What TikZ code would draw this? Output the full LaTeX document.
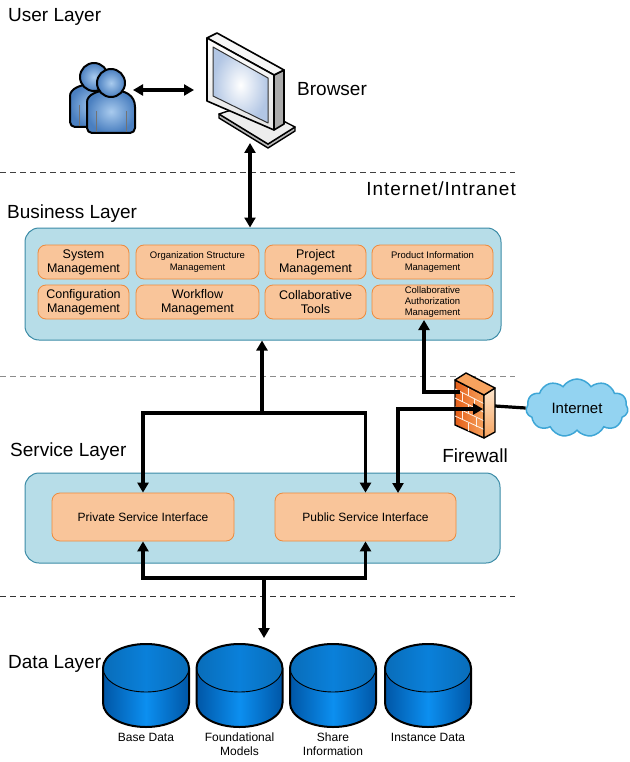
\documentclass[tikz,border=0pt]{standalone}
\usepackage{fontspec}
\setmainfont{Liberation Sans}
\usetikzlibrary{arrows.meta,shapes.symbols,calc}

\definecolor{layerfill}{HTML}{B7DDE8}
\definecolor{layeredge}{HTML}{3B8BA6}
\definecolor{modfill}{HTML}{F9C59A}
\definecolor{modedge}{HTML}{EE8A3C}
\definecolor{dbedge}{HTML}{0056A6}
\definecolor{dbmid}{HTML}{0C8FF0}
\definecolor{dbtop}{HTML}{0A80DA}
\definecolor{personlight}{HTML}{A9CBEE}
\definecolor{persondark}{HTML}{4A7FC0}
\definecolor{monfront}{HTML}{E4E4E4}
\definecolor{montop}{HTML}{F6F6F6}
\definecolor{monside}{HTML}{ABABAB}
\definecolor{screenblue}{HTML}{B2C6E4}
\definecolor{standtop}{HTML}{EDEDED}
\definecolor{standside}{HTML}{B8B8B8}
\definecolor{fwdark}{HTML}{E45E18}
\definecolor{fwlight}{HTML}{F7A35E}
\definecolor{fwcream}{HTML}{FDE7CF}
\definecolor{cloudfill}{HTML}{93D3F1}
\definecolor{cloudedge}{HTML}{3EA6D6}

\tikzset{
  >={Triangle[width=11pt,length=10pt]},
  conn/.style={line width=3.2pt},
  sepline/.style={dash pattern=on 6pt off 4pt, line width=1pt},
  layerbox/.style={draw=layeredge, fill=layerfill, line width=1pt, rounded corners=14pt, inner sep=0pt},
  modbox/.style={draw=modedge, fill=modfill, line width=0.8pt, rounded corners=8pt,
    align=center, inner sep=0pt, text=black},
  modtext/.style={modbox, font=\fontsize{12.5}{14}\selectfont},
  modsmall/.style={modbox, font=\fontsize{9.5}{11.3}\selectfont},
  title/.style={font=\fontsize{19}{22}\selectfont, inner sep=0pt},
  dblabel/.style={font=\fontsize{12}{14}\selectfont, align=center, inner sep=0pt, anchor=north},
  icon/.style={inner sep=0pt},
  personbody/.style={line width=2pt, line join=round, inner color=personlight, outer color=persondark},
  person/.pic={
    \shadedraw[personbody, rounded corners=5pt]
      (-24,-50) -- (-24,-24) [sharp corners] .. controls (-24,-12) and (-14,-7) .. (0,-7)
      .. controls (14,-7) and (24,-12) .. (24,-24) [rounded corners=5pt] -- (24,-50) -- cycle;
    \draw[black!55, line width=0.6pt] (-15,-28) -- (-15,-49) (15,-28) -- (15,-49);
    \shadedraw[personbody] (0,0) circle[radius=14];
  }
}

\begin{document}
\begin{tikzpicture}[x=1pt,y=1pt]
\useasboundingbox (0,0) rectangle (629,-762);

% layer separators
\draw[sepline, black!75] (0,-173) -- (515,-173);
\draw[sepline, black!45] (0,-376) -- (515,-376);
\draw[sepline, black!80] (0,-596) -- (515,-596);

% layer titles
\node[title, anchor=base west] (tUser) at (8,-22) {User Layer};
\node[title, anchor=base west] (tBrowser) at (297,-96) {Browser};
\node[title, anchor=base east] (tNet) at (516,-195) {\addfontfeature{LetterSpace=5}Internet/Intranet};
\node[title, anchor=base west] (tBusiness) at (7,-218) {Business Layer};
\node[title, anchor=base west] (tService) at (10,-456) {Service Layer};
\node[title, anchor=base west] (tData) at (8,-668) {Data Layer};
\node[title, anchor=base] (tFirewall) at (475,-462) {Firewall};

% users icon
\node[icon, minimum width=68, minimum height=70] (users) at (102,-98) {};
\pic at (94,-77) {person};
\pic at (111,-83) {person};

% browser icon: stand plate, then the monitor
\node[icon, minimum width=90, minimum height=116] (browser) at (251,-90) {};
\filldraw[fill=standside, line width=1.4pt, line join=round]
  (219,-114) -- (219,-118) -- (268,-148) -- (295,-131) -- (295,-127) -- (268,-144) -- cycle;
\filldraw[fill=standtop, line width=1.4pt, line join=round]
  (219,-114) -- (250,-104) -- (295,-127) -- (268,-144) -- cycle;
\filldraw[fill=monside, line width=1.6pt, line join=round]
  (274,-75) -- (284,-70) -- (284,-124) -- (274,-130) -- cycle;
\filldraw[fill=montop, line width=1.6pt, line join=round]
  (207,-38) -- (217,-33) -- (284,-70) -- (274,-75) -- cycle;
\shadedraw[top color=white, bottom color=monfront, line width=1.6pt, line join=round]
  (207,-38) -- (274,-75) -- (274,-130) -- (207,-101) -- cycle;
\shadedraw[inner color=white, outer color=screenblue, draw=black!80, line width=1pt, line join=round]
  (213,-47) -- (268,-78) -- (268,-123) -- (213,-96) -- cycle;

% business layer
\node[layerbox, minimum width=476, minimum height=112] (bus) at (263,-284) {};
\node[modtext, minimum width=91, minimum height=34] (sysm) at (83.5,-262) {System\\Management};
\node[modsmall, minimum width=123, minimum height=34] (orgm) at (197.5,-262) {Organization Structure\\Management};
\node[modtext, minimum width=101, minimum height=34] (prjm) at (315.5,-262) {Project\\Management};
\node[modsmall, minimum width=121, minimum height=34] (pim) at (432.5,-262) {Product Information\\Management};
\node[modtext, minimum width=91, minimum height=34] (cfgm) at (83.5,-302) {Configuration\\Management};
\node[modtext, minimum width=123, minimum height=34] (wfm) at (197.5,-302) {Workflow\\Management};
\node[modtext, minimum width=101, minimum height=34] (colt) at (315.5,-302) {Collaborative\\Tools};
\node[modsmall, minimum width=121, minimum height=34] (cam) at (432.5,-302) {Collaborative\\Authorization\\Management};

% service layer
\node[layerbox, minimum width=475, minimum height=90] (svc) at (262.5,-518) {};
\node[modtext, font=\fontsize{12}{14}\selectfont, minimum width=182, minimum height=48] (priv) at (143,-517) {Private Service Interface};
\node[modtext, font=\fontsize{12}{14}\selectfont, minimum width=181, minimum height=48] (pub) at (365.5,-517) {Public Service Interface};

% firewall
\node[icon, minimum width=40, minimum height=66] (fw) at (475,-405.5) {};
\shadedraw[left color=fwdark, right color=fwlight, line width=1.4pt, line join=round]
  (455,-380) -- (484,-395) -- (484,-438) -- (455,-425) -- cycle;
\begin{scope}
  \clip (455,-380) -- (484,-395) -- (484,-438) -- (455,-425) -- cycle;
  \foreach \k in {1,...,4} {
    \draw[white!85!fwlight, line width=0.8pt] (455,-380-9*\k) -- (484,-395-8.6*\k);
  }
  \foreach \xa/\k in {468/0, 462/1, 474/1, 468/2, 462/3, 476/3, 468/4} {
    \draw[white!85!fwlight, line width=0.8pt]
      (\xa,{-380-9*\k-(\xa-455)*0.5}) -- ++(0,-9);
  }
\end{scope}
\shadedraw[top color=fwcream, bottom color=fwlight, line width=1.4pt, line join=round]
  (484,-395) -- (495,-388) -- (495,-432) -- (484,-438) -- cycle;
\filldraw[fill=fwlight, line width=1.4pt, line join=round]
  (455,-380) -- (466,-373) -- (495,-388) -- (484,-395) -- cycle;

% internet cloud
\node[cloud, cloud puffs=11, cloud puff arc=115, cloud ignores aspect, draw=cloudedge, fill=cloudfill, line width=1.5pt,
  minimum width=102, minimum height=58, inner sep=0pt, font=\fontsize{15}{17}\selectfont] (net) at (577,-408) {Internet};

% data layer stores
\foreach \cx/\nm/\txt in {146/dbBase/{Base Data}, 239.5/dbModel/{Foundational\\Models},
                          333/dbShare/{Share\\Information}, 428/dbInst/{Instance Data}} {
  \shade[left color=dbedge, right color=dbedge, middle color=dbmid]
    (\cx-43,-668) -- (\cx-43,-703) arc[start angle=180, end angle=360, x radius=43, y radius=24]
    -- (\cx+43,-668) arc[start angle=0, end angle=180, x radius=43, y radius=24] -- cycle;
  \shade[left color=dbtop!85!black, right color=dbtop!85!black, middle color=dbtop]
    (\cx,-668) ellipse[x radius=43, y radius=24];
  \draw[line width=0.9pt] (\cx,-668) ellipse[x radius=43, y radius=24];
  \draw[line width=2pt, line join=round]
    (\cx-43,-668) -- (\cx-43,-703) arc[start angle=180, end angle=360, x radius=43, y radius=24]
    -- (\cx+43,-668) arc[start angle=0, end angle=180, x radius=43, y radius=24] -- cycle;
  \node[dblabel] (\nm) at (\cx,-733) {\txt};
}

% connector end points
\coordinate (uR) at (133,-90);
\coordinate (bL) at (194,-90);
\coordinate (bB) at (250,-143);
\coordinate (j1) at (262,-413);
\coordinate (pubB) at (398,-493);
\coordinate (fwA) at (460,-392);
\coordinate (fwB) at (483,-409);
\coordinate (fwC) at (495,-406);
\coordinate (camIn) at (424,-320);
\coordinate (j2) at (264,-578);
\coordinate (dbIn) at (264,-638);

% connectors
\draw[conn, <->] (uR) -- (bL);
\draw[conn, <->] (bB) -- (bB |- bus.north);
\draw[conn, ->] (j1) -- (j1 |- bus.south);
\draw[conn, ->] (j1) -| (priv.north);
\draw[conn, ->] (j1) -| (pub.north);
\draw[conn, ->] (fwA) -| (camIn);
\draw[conn, <->] (pubB) |- (fwB);
\draw[conn] (fwC) -- (net.west);
\draw[conn, ->] (j2) -| (priv.south);
\draw[conn, ->] (j2) -| (pub.south);
\draw[conn, ->] (j2) -- (dbIn);
\end{tikzpicture}
\end{document}
